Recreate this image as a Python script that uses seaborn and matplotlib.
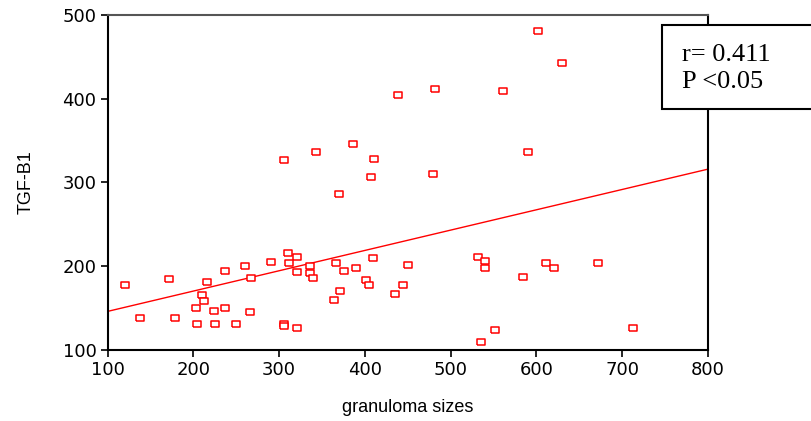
import numpy as np
import pandas as pd
import matplotlib
matplotlib.use("Agg")
import matplotlib.pyplot as plt
import seaborn as sns
from matplotlib.patches import Rectangle

# granuloma size vs TGF-B1 values
granuloma = [120.8, 137.5, 171.3, 178.7, 216.0, 210.6, 212.5, 203.2, 204.7, 223.8,
             225.7, 236.7, 236.7, 249.5, 260.7, 267.0, 266.5, 291.0, 305.8, 305.8,
             305.8, 310.1, 311.7, 321.0, 321.0, 321.0, 335.8, 335.8, 340.0, 343.5,
             366.1, 363.8, 369.6, 371.5, 375.8, 390.2, 401.5, 405.3, 407.3, 410.8,
             409.2, 435.3, 444.6, 450.4, 479.9, 590.4, 532.4, 540.2, 540.2, 535.9,
             551.5, 584.9, 611.0, 620.7, 671.2, 712.5, 601.7, 630.0, 481.9, 438.8,
             560.9, 386.6]
tgf_b1 = [177.2, 138.0, 184.0, 138.0, 181.1, 165.2, 158.4, 150.0, 130.1, 146.0,
          130.1, 193.5, 150.0, 130.1, 200.2, 185.5, 144.9, 204.3, 326.7, 130.1,
          127.7, 215.4, 203.1, 211.0, 192.3, 125.7, 200.2, 191.1, 185.5, 336.2,
          203.1, 159.6, 286.0, 170.3, 193.5, 197.5, 182.8, 177.2, 306.3, 328.2,
          209.8, 166.4, 177.2, 201.4, 310.3, 335.9, 211.0, 205.9, 197.5, 109.3,
          123.0, 186.7, 203.1, 197.5, 203.1, 125.7, 481.3, 443.1, 412.0, 404.1,
          409.6, 345.4]

x_ticks = [100, 200, 300, 400, 500, 600, 700, 800]
y_ticks = [100, 200, 300, 400, 500]
stats_text = "r= 0.411\nP <0.05"

df = pd.DataFrame({"granuloma sizes": granuloma, "TGF-B1": tgf_b1})

sns.set_style("ticks")
fig = plt.figure(figsize=(8.11, 4.21), dpi=100)
ax = fig.add_axes([0.1326, 0.1698, 0.7404, 0.7946])
ax.set_xlim(100, 800)
ax.set_ylim(100, 500)

rect_marker = [(-1.4, -1), (1.4, -1), (1.4, 1), (-1.4, 1), (-1.4, -1)]
sns.regplot(data=df, x="granuloma sizes", y="TGF-B1", ax=ax, ci=None,
            truncate=False, scatter=False, color="red",
            line_kws={"linewidth": 1.0})
sns.scatterplot(data=df, x="granuloma sizes", y="TGF-B1", ax=ax,
                marker=rect_marker, s=36, facecolor="white",
                edgecolor="red", linewidth=1.1, zorder=3)

ax.set_xlim(100, 800)
ax.set_ylim(100, 500)
ax.set_xticks(x_ticks)
ax.set_yticks(y_ticks)
ax.tick_params(axis="both", direction="out", length=5, width=1.2,
               labelsize=13, color="black", labelcolor="black", pad=3)
for lab in ax.get_xticklabels() + ax.get_yticklabels():
    lab.set_family("DejaVu Sans")

ax.set_xlabel("granuloma sizes", fontsize=13, family="Liberation Sans",
              color="black", labelpad=15)
ax.set_ylabel("TGF-B1", fontsize=13, family="Liberation Sans",
              color="black", labelpad=20)

for side in ["left", "bottom", "right"]:
    ax.spines[side].set_color("black")
    ax.spines[side].set_linewidth(1.5)
ax.spines["top"].set_color("#555555")
ax.spines["top"].set_linewidth(1.5)

# stats box in the top right corner, running off the figure edge
fig.patches.append(Rectangle((0.8163, 0.740), 0.3, 0.2, transform=fig.transFigure,
                             facecolor="white", edgecolor="black",
                             linewidth=1.5, zorder=5))
fig.text(0.841, 0.838, stats_text, fontsize=19, family="Liberation Serif",
         color="black", va="center", ha="left", linespacing=1.3, zorder=6)

fig.savefig("out.png", dpi=100)
